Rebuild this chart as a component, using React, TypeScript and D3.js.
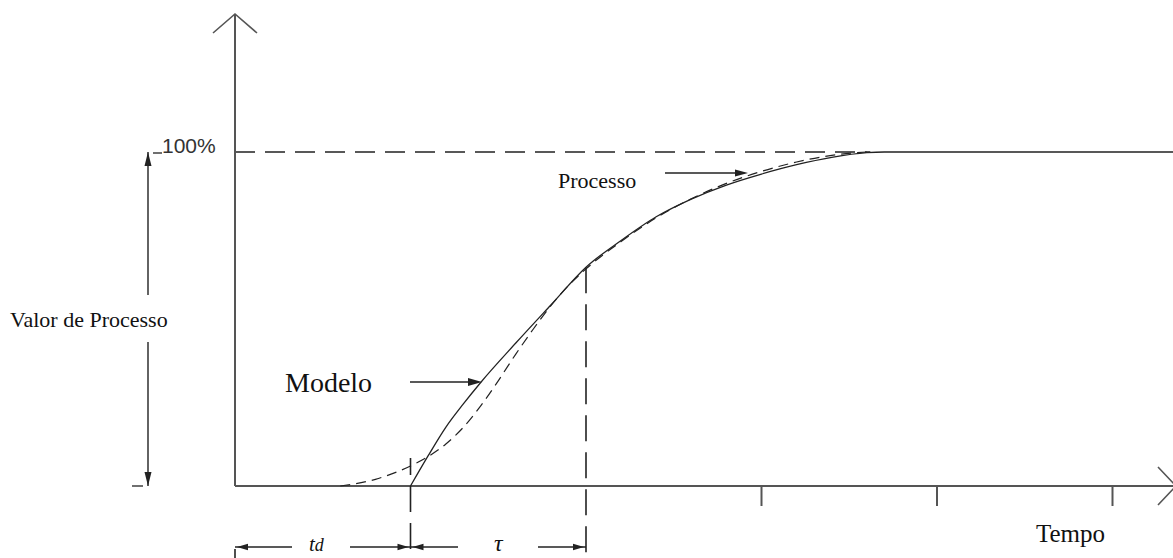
import React from "react";
import * as d3 from "d3";

// Time expressed in units of tau (td = 1, td + tau = 2)
const tickTimes = [1, 2, 3, 4, 5];
const deadTime = 1;
const tauEnd = 2;

const modelTime = [1.0, 1.1, 1.2, 1.3, 1.4, 1.6, 1.8, 2.0, 2.2, 2.4, 2.6, 2.8, 3.0, 3.2, 3.4, 3.6, 3.7, 5.35];
const modelValue = [0, 9.0, 17.5, 24.5, 31.0, 42.8, 54.2, 65.5, 73.5, 80.6, 85.9, 90.1, 93.4, 96.2, 98.4, 99.8, 100, 100];

const processTime = [0.6, 0.8, 1.0, 1.1, 1.2, 1.3, 1.4, 1.5, 1.6, 1.7, 1.8, 1.9, 2.0, 2.2, 2.4, 2.6, 2.8, 3.0, 3.2, 3.4, 3.6];
const processValue = [0, 2.0, 6.0, 8.8, 12.5, 17.5, 24.0, 31.5, 39.5, 47.0, 54.0, 60.0, 65.0, 73.2, 80.3, 86.0, 90.6, 94.2, 97.0, 99.0, 100];

const referenceLevel = 100;
const referenceEnd = 3.62;

const labels = {
  level: "100%",
  yTitle: "Valor de Processo",
  model: "Modelo",
  process: "Processo",
  xTitle: "Tempo",
  td: "t",
  tdSub: "d",
  tau: "τ",
};

const W = 1173;
const H = 558;

export default function App() {
  const x = d3.scaleLinear().domain([0, 5]).range([235, 1112.5]);
  const y = d3.scaleLinear().domain([0, 100]).range([486, 152]);

  const line = d3
    .line<[number, number]>()
    .x((d) => x(d[0]))
    .y((d) => y(d[1]))
    .curve(d3.curveMonotoneX);

  const modelPts = modelTime.map((t, i) => [t, modelValue[i]] as [number, number]);
  const processPts = processTime.map((t, i) => [t, processValue[i]] as [number, number]);

  const axisColor = "#555";
  const ink = "#222";
  const x0 = x(0);
  const y0 = y(0);
  const y100 = y(referenceLevel);
  const dimY = 547;
  const serif = "'Liberation Serif', 'Times New Roman', serif";

  const arrowHead = (tip: number, yy: number, dir: number, len = 11, hw = 3.2) =>
    `${tip},${yy} ${tip - dir * len},${yy - hw} ${tip - dir * len},${yy + hw}`;
  const vArrowHead = (xx: number, tip: number, dir: number, len = 14, hw = 3.5) =>
    `${xx},${tip} ${xx - hw},${tip - dir * len} ${xx + hw},${tip - dir * len}`;

  const xd = x(deadTime);
  const xt = x(tauEnd);

  return (
    <svg
      width={W}
      height={H}
      style={{ position: "absolute", left: 0, top: 0, background: "#fff" }}
    >
      {/* 100% reference dashed line */}
      <line x1={x0} x2={x(referenceEnd)} y1={y100} y2={y100} stroke={ink} strokeWidth={1.3} strokeDasharray="20 10" />

      {/* axes */}
      <line x1={x0} x2={x0} y1={y0} y2={14} stroke={axisColor} strokeWidth={2} />
      <polyline points={`${x0 - 22},33 ${x0},14 ${x0 + 22},33`} fill="none" stroke={axisColor} strokeWidth={1.6} />
      <line x1={x0} x2={1176} y1={y0} y2={y0} stroke={axisColor} strokeWidth={2} />
      <polyline points={`1158,467 1176,${y0} 1158,505`} fill="none" stroke={axisColor} strokeWidth={1.6} />

      {/* ticks */}
      {tickTimes
        .filter((t) => t !== deadTime && t !== tauEnd)
        .map((t) => (
          <line key={t} x1={x(t)} x2={x(t)} y1={y0} y2={y0 + 20} stroke={axisColor} strokeWidth={2} />
        ))}

      {/* vertical dashed markers */}
      <line x1={xd} x2={xd} y1={458} y2={H} stroke={ink} strokeWidth={1.6} strokeDasharray="26 11" strokeDashoffset={9} />
      <line x1={xt} x2={xt} y1={y(65.5)} y2={H} stroke={ink} strokeWidth={1.6} strokeDasharray="26 11" />
      <line x1={x0} x2={x0} y1={549} y2={H} stroke={ink} strokeWidth={1.6} />

      {/* curves */}
      <path d={line(processPts) ?? ""} fill="none" stroke={ink} strokeWidth={1.2} strokeDasharray="10 6" />
      <path d={line(modelPts) ?? ""} fill="none" stroke={ink} strokeWidth={1.3} />

      {/* left vertical double arrow */}
      <line x1={148} x2={148} y1={y100} y2={295} stroke={ink} strokeWidth={1.4} />
      <line x1={148} x2={148} y1={342} y2={y0} stroke={ink} strokeWidth={1.4} />
      <polygon points={vArrowHead(148, y100, -1)} fill={ink} />
      <polygon points={vArrowHead(148, y0, 1)} fill={ink} />
      <line x1={153} x2={162} y1={y100 + 1} y2={y100 + 1} stroke={ink} strokeWidth={1.3} />
      <line x1={132} x2={143} y1={y0} y2={y0} stroke={ink} strokeWidth={1.3} />

      {/* labels */}
      <text x={162} y={153} fontFamily="'Liberation Sans', Arial, sans-serif" fontSize={21} fill="#333">
        {labels.level}
      </text>
      <text x={10} y={327} fontFamily={serif} fontSize={22} fill="#111">
        {labels.yTitle}
      </text>
      <text x={285} y={392} fontFamily={serif} fontSize={28} fill="#111">
        {labels.model}
      </text>
      <text x={558} y={188} fontFamily={serif} fontSize={22} fill="#111">
        {labels.process}
      </text>
      <text x={1036} y={542} fontFamily={serif} fontSize={25} fill="#111">
        {labels.xTitle}
      </text>

      {/* label arrows */}
      <line x1={410} x2={472} y1={382} y2={382} stroke={ink} strokeWidth={1.4} />
      <polygon points={arrowHead(482, 382, 1, 14, 4)} fill={ink} />
      <line x1={665} x2={740} y1={173} y2={173} stroke={ink} strokeWidth={1.4} />
      <polygon points={arrowHead(748, 173, 1, 13, 3.5)} fill={ink} />

      {/* dimension lines */}
      <line x1={x0} x2={292} y1={dimY} y2={dimY} stroke={ink} strokeWidth={1.4} />
      <polygon points={arrowHead(x0 + 2, dimY, -1)} fill={ink} />
      <line x1={350} x2={xd} y1={dimY} y2={dimY} stroke={ink} strokeWidth={1.4} />
      <polygon points={arrowHead(xd - 2, dimY, 1)} fill={ink} />
      <line x1={xd} x2={458} y1={dimY} y2={dimY} stroke={ink} strokeWidth={1.4} />
      <polygon points={arrowHead(xd + 2, dimY, -1)} fill={ink} />
      <line x1={538} x2={xt} y1={dimY} y2={dimY} stroke={ink} strokeWidth={1.4} />
      <polygon points={arrowHead(xt - 2, dimY, 1)} fill={ink} />

      <text x={309} y={551} fontFamily={serif} fontSize={21} fontStyle="italic" fill="#111">
        {labels.td}
        <tspan fontSize={18}>{labels.tdSub}</tspan>
      </text>
      <text x={494} y={551} fontFamily={serif} fontSize={24} fontStyle="italic" fill="#111">
        {labels.tau}
      </text>
    </svg>
  );
}
